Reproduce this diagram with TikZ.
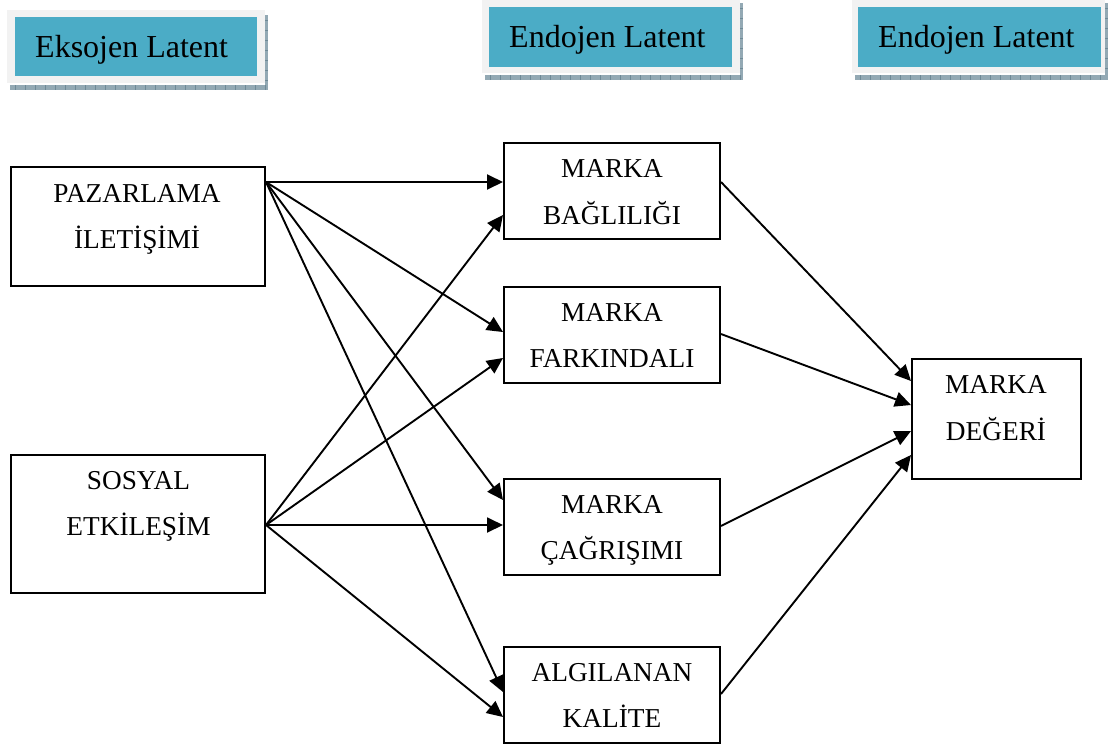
\documentclass[tikz,border=0pt]{standalone}
\usepackage{fontspec}
\setmainfont{Liberation Serif}
\usetikzlibrary{arrows.meta,calc}
\definecolor{headteal}{HTML}{4BACC6}
\definecolor{headrim}{HTML}{F2F2F2}
\definecolor{headshade}{HTML}{93A9B4}
\definecolor{headtick}{HTML}{6F8A97}
\tikzset{
  var/.style={draw=black,line width=2pt,fill=white,minimum width=#1,inner sep=0pt},
  var/.default=216pt,
  lbl/.style={anchor=base,inner sep=0pt,font=\fontsize{27.3}{30}\selectfont},
  hdr/.style={anchor=base west,inner sep=0pt,font=\fontsize{32}{36}\selectfont},
  path/.style={line width=1.9pt,-{Triangle[length=16pt,width=15pt]}},
  shadestrip/.style={headtick,line width=5pt,dash pattern=on 0.6pt off 9.4pt},
}
\newcommand{\headerbox}[8]{%
  % #1,#2: rim corner; #3,#4: opposite rim corner; #5,#6,#7,#8: teal panel
  \fill[headshade] ($(#1,#4)+(3,2)$) rectangle ($(#3,#4)+(3,7)$);
  \fill[headshade] ($(#3,#2)+(0,5)$) rectangle ($(#3,#4)+(3,7)$);
  \draw[shadestrip] ($(#1,#4)+(8,4.5)$) -- ($(#3,#4)+(3,4.5)$);
  \draw[shadestrip,line width=3pt] ($(#3,#2)+(1.5,10)$) -- ($(#3,#4)+(1.5,2)$);
  \fill[headrim] (#1,#2) rectangle (#3,#4);
  \fill[headteal] (#5,#6) rectangle (#7,#8);
}
\begin{document}
\begin{tikzpicture}[x=1pt,y=-1pt]
\useasboundingbox (0,0) rectangle (1108,745);

% column headers
\headerbox{7}{10}{265}{83}{15}{17}{257}{76}
\headerbox{482}{-2}{740}{73}{489}{7}{732}{67}
\headerbox{852}{-2}{1105}{73}{858}{7}{1101}{67}
\node[hdr] (h1) at (35,57) {Eksojen Latent};
\node[hdr] (h2) at (509,47) {Endojen Latent};
\node[hdr] (h3) at (878,47) {Endojen Latent};

% latent variables
\node[var=254pt,minimum height=119pt] (pz) at (138,226.5) {};
\node[var=254pt,minimum height=138pt] (so) at (138,524) {};
\node[var,minimum height=96pt] (bg) at (612,191) {};
\node[var,minimum height=96pt] (fk) at (612,335) {};
\node[var,minimum height=96pt] (cg) at (612,527) {};
\node[var,minimum height=96pt] (ak) at (612,695) {};
\node[var=169pt,minimum height=120pt] (dg) at (996.5,419) {};

% labels
\node[lbl] (pz1) at (137,202) {PAZARLAMA};
\node[lbl] (pz2) at (137,248) {İLETİŞİMİ};
\node[lbl] (so1) at (138.5,489) {SOSYAL};
\node[lbl] (so2) at (138.5,535) {ETKİLEŞİM};
\node[lbl] (bg1) at (612,177) {MARKA};
\node[lbl] (bg2) at (612,224) {BAĞLILIĞI};
\node[lbl] (fk1) at (612,321) {MARKA};
\node[lbl] (fk2) at (612,367) {FARKINDALI};
\node[lbl] (cg1) at (612,513) {MARKA};
\node[lbl] (cg2) at (612,559) {ÇAĞRIŞIMI};
\node[lbl] (ak1) at (612,681) {ALGILANAN};
\node[lbl] (ak2) at (612,727) {KALİTE};
\node[lbl] (dg1) at (996,393) {MARKA};
\node[lbl] (dg2) at (996,440) {DEĞERİ};

% exogenous to endogenous paths
\draw[path] ($(pz.north east)+(0,16)$) -- ($(bg.north west)+(0,40)$);
\draw[path] ($(pz.north east)+(0,16)$) -- ($(fk.north west)+(0,46)$);
\draw[path] ($(pz.north east)+(0,16)$) -- ($(cg.north west)+(0,22)$);
\draw[path] ($(pz.north east)+(0,16)$) -- ($(ak.north west)+(0,46)$);
\draw[path] ($(so.north east)+(0,71)$) -- ($(bg.north west)+(0,73)$);
\draw[path] ($(so.north east)+(0,71)$) -- ($(fk.north west)+(0,72)$);
\draw[path] ($(so.north east)+(0,71)$) -- ($(cg.north west)+(0,47)$);
\draw[path] ($(so.north east)+(0,71)$) -- ($(ak.north west)+(0,71)$);

% endogenous to brand equity
\draw[path] ($(bg.north east)+(0,40)$) -- ($(dg.north west)+(0,23)$);
\draw[path] ($(fk.north east)+(0,48)$) -- ($(dg.north west)+(0,47)$);
\draw[path] ($(cg.north east)+(0,48)$) -- ($(dg.north west)+(0,73)$);
\draw[path] ($(ak.north east)+(0,48)$) -- ($(dg.north west)+(0,97)$);
\end{tikzpicture}
\end{document}
